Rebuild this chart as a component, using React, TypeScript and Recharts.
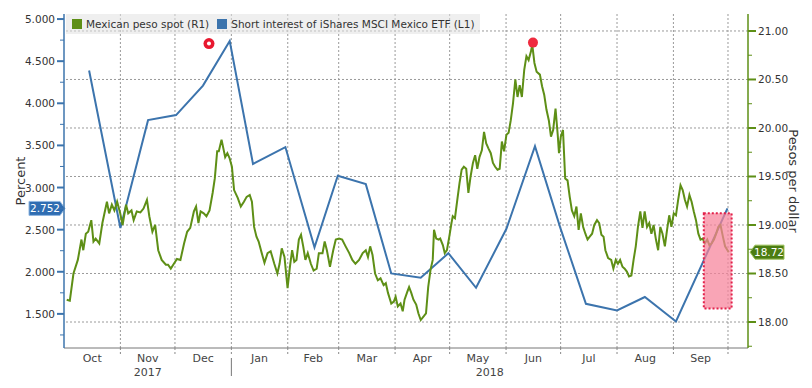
import React from 'react';
import { LineChart, Line, XAxis, YAxis, ReferenceLine, ReferenceArea, ReferenceDot, Legend } from 'recharts';

const GREEN = '#5e8f16';
const BLUE = '#3c74ad';
const FONT = '"DejaVu Sans", Verdana, sans-serif';

// x values are days counted from 1 Oct 2017
const monthStarts = [31, 61, 92, 123, 151, 182, 212, 243, 273, 304, 335, 365];
const monthLabels = ['Oct', 'Nov', 'Dec', 'Jan', 'Feb', 'Mar', 'Apr', 'May', 'Jun', 'Jul', 'Aug', 'Sep'];
const yearLabels = ['2017', '2018'];
const yearBounds = [0, 92, 376];

const leftTicks = [1.25, 1.5, 1.75, 2, 2.25, 2.5, 2.75, 3, 3.25, 3.5, 3.75, 4, 4.25, 4.5, 4.75, 5];
const rightTicks = [17.75, 18, 18.25, 18.5, 18.75, 19, 19.25, 19.5, 19.75, 20, 20.25, 20.5, 20.75, 21];
const rightGrid = [18, 18.5, 19, 19.5, 20, 20.5, 21];

// Mexican peso spot, pesos per dollar (right axis)
const pesoSpot: [number, number][] = [
  [1.5, 18.23], [3.2, 18.22], [5.2, 18.5], [7.6, 18.64], [9.6, 18.85], [10.6, 18.74], [12.0, 18.91], [13.3, 18.93],
  [15.0, 19.05], [16.2, 18.83], [17.4, 18.86], [19.4, 18.81], [21.1, 19.02], [23.6, 19.24], [24.8, 19.12], [26.3, 19.21],
  [27.7, 19.15], [29.2, 19.24], [30.9, 19.12], [32.2, 19.0], [34.1, 19.21], [35.3, 19.12], [37.1, 19.15], [38.3, 19.05],
  [40.0, 19.14], [42.0, 19.13], [43.7, 19.17], [45.6, 19.26], [46.9, 19.09], [48.6, 18.93], [50.1, 19.0], [51.8, 18.74],
  [53.7, 18.64], [56.0, 18.59], [57.2, 18.59], [58.7, 18.55], [60.4, 18.6], [62.1, 18.65], [64.0, 18.64], [66.0, 18.81],
  [67.7, 18.93], [69.4, 18.97], [71.4, 19.14], [72.6, 19.19], [73.9, 19.02], [75.1, 19.14], [76.8, 19.12], [78.3, 19.09],
  [80.0, 19.15], [81.7, 19.33], [82.9, 19.48], [84.2, 19.76], [85.1, 19.76], [86.6, 19.88], [87.6, 19.79], [88.6, 19.7],
  [89.8, 19.74], [91.0, 19.69], [92.3, 19.6], [93.5, 19.36], [95.5, 19.28], [97.2, 19.19], [98.9, 19.24], [100.4, 19.29],
  [102.1, 19.31], [103.3, 19.24], [104.5, 18.98], [105.8, 18.88], [107.0, 18.83], [108.7, 18.71], [110.2, 18.61], [111.9, 18.71],
  [113.6, 18.73], [115.6, 18.6], [117.3, 18.5], [118.5, 18.6], [119.7, 18.76], [121.2, 18.67], [122.9, 18.35], [124.2, 18.57],
  [125.4, 18.74], [126.6, 18.62], [127.8, 18.64], [129.1, 18.85], [130.3, 18.9], [131.5, 18.78], [132.7, 18.64], [134.0, 18.71],
  [135.7, 18.6], [137.2, 18.53], [138.9, 18.55], [140.1, 18.71], [142.1, 18.71], [143.3, 18.83], [144.5, 18.74], [146.2, 18.57],
  [148.0, 18.74], [149.4, 18.85], [151.2, 18.86], [152.9, 18.85], [154.8, 18.78], [156.8, 18.71], [158.5, 18.64], [160.2, 18.6],
  [162.2, 18.64], [164.2, 18.71], [165.9, 18.74], [167.1, 18.67], [168.3, 18.78], [169.6, 18.69], [171.0, 18.5], [172.5, 18.43],
  [174.0, 18.45], [175.7, 18.38], [176.9, 18.4], [178.1, 18.3], [179.9, 18.19], [181.3, 18.21], [182.3, 18.26], [183.5, 18.16],
  [185.0, 18.19], [186.2, 18.11], [187.2, 18.23], [188.7, 18.31], [189.7, 18.36], [190.9, 18.3], [192.1, 18.23], [193.6, 18.18],
  [194.8, 18.09], [196.1, 18.02], [197.8, 18.06], [199.0, 18.09], [200.2, 18.36], [201.5, 18.54], [202.7, 18.64], [203.4, 18.95],
  [204.6, 18.86], [205.9, 18.85], [206.8, 18.86], [208.3, 18.79], [209.3, 18.71], [210.5, 18.74], [211.8, 18.88], [213.0, 19.02],
  [213.7, 19.09], [214.9, 19.07], [216.2, 19.26], [217.4, 19.43], [218.6, 19.57], [219.8, 19.6], [221.1, 19.58], [222.3, 19.33],
  [223.5, 19.5], [224.8, 19.64], [226.0, 19.72], [227.2, 19.58], [228.4, 19.7], [229.7, 19.77], [230.9, 19.96], [232.1, 19.84],
  [233.3, 19.79], [234.6, 19.74], [235.8, 19.64], [237.0, 19.6], [238.3, 19.57], [239.5, 19.58], [240.7, 19.86], [241.9, 19.76],
  [243.2, 19.93], [244.4, 19.95], [245.6, 20.08], [246.8, 20.25], [248.1, 20.5], [249.3, 20.32], [250.5, 20.44], [251.7, 20.32],
  [253.0, 20.6], [254.2, 20.74], [255.4, 20.7], [256.7, 20.79], [257.4, 20.86], [258.6, 20.67], [259.8, 20.58], [261.6, 20.55],
  [262.8, 20.43], [264.0, 20.34], [265.2, 20.19], [266.5, 20.08], [267.7, 19.91], [268.9, 19.98], [270.2, 20.2], [271.4, 19.93],
  [272.1, 19.74], [273.1, 19.91], [274.3, 19.98], [275.5, 19.48], [276.8, 19.46], [278.0, 19.29], [279.2, 19.15], [280.5, 19.09],
  [281.7, 19.19], [282.9, 18.95], [284.1, 19.12], [285.4, 18.98], [286.6, 18.91], [287.8, 18.85], [289.0, 18.88], [290.3, 18.91],
  [291.5, 19.0], [293.0, 19.05], [294.2, 19.02], [295.4, 18.9], [296.6, 18.88], [297.6, 18.74], [299.1, 18.66], [300.8, 18.64],
  [302.0, 18.55], [303.3, 18.64], [304.5, 18.6], [305.7, 18.64], [307.0, 18.57], [308.2, 18.55], [309.4, 18.52], [310.6, 18.47],
  [311.9, 18.48], [313.1, 18.64], [314.3, 18.78], [315.5, 18.98], [316.8, 19.14], [318.0, 18.97], [319.2, 19.14], [320.5, 18.98],
  [321.7, 19.02], [322.9, 18.91], [324.1, 19.0], [325.4, 18.85], [326.6, 18.74], [327.8, 18.98], [329.0, 18.91], [330.3, 18.78],
  [331.5, 18.95], [332.7, 19.1], [333.9, 18.98], [335.2, 19.12], [336.4, 19.1], [337.6, 19.26], [338.9, 19.41], [340.1, 19.36],
  [341.3, 19.26], [342.5, 19.19], [343.8, 19.31], [345.0, 19.24], [346.2, 19.14], [347.4, 19.05], [348.7, 18.91], [349.9, 18.85],
  [351.1, 18.86], [352.3, 18.81], [353.6, 18.85], [354.8, 18.79], [356.0, 18.81], [357.3, 18.85], [358.5, 18.91], [359.7, 18.98],
  [360.9, 19.0], [362.2, 18.88], [363.4, 18.78], [365.4, 18.72],
];

// short interest of iShares MSCI Mexico ETF, percent (left axis)
const shortInterest: [number, number][] = [
  [13.8, 4.39], [31.0, 2.52], [46.2, 3.8], [61.6, 3.86], [76.4, 4.21], [91.1, 4.74], [103.9, 3.28], [121.7, 3.48],
  [137.7, 2.29], [150.5, 3.14], [165.9, 3.04], [179.9, 1.98], [196.1, 1.93], [211.3, 2.22], [226.5, 1.81], [243.2, 2.51],
  [258.9, 3.49], [272.7, 2.53], [286.9, 1.62], [304.0, 1.54], [319.3, 1.7], [336.4, 1.41], [364.7, 2.752],
];

const lastShort = 2.752;
const lastPeso = 18.72;
const peakMarks: [number, number][] = [[79.7, 20.87], [257.8, 20.88]];
const highlight = { x1: 351.7, x2: 367, y1: 18.14, y2: 19.12 };

const pesoData = pesoSpot.map(([d, v]) => ({ d, v }));
const shortData = shortInterest.map(([d, v]) => ({ d, v }));

const bounds = [0, ...monthStarts];
const monthMids = monthLabels.map((_, i) => (bounds[i] + bounds[i + 1]) / 2);
const yearMids = yearLabels.map((_, i) => (yearBounds[i] + yearBounds[i + 1]) / 2);
const xTicks = Array.from(new Set([...monthStarts, ...monthMids, ...yearMids])).sort((a, b) => a - b);

const XTick = (props: any) => {
  const { x, y, payload } = props;
  const v = payload.value;
  const mi = monthMids.indexOf(v);
  const yi = yearMids.indexOf(v);
  return (
    <g>
      {monthStarts.includes(v) && (
        <line x1={x} x2={x} y1={y} y2={y + 7} stroke="#888" strokeDasharray="2 2" />
      )}
      {v === yearBounds[1] && <line x1={x} x2={x} y1={y + 10} y2={y + 28} stroke="#777" />}
      {mi >= 0 && (
        <text x={x} y={y + 14} textAnchor="middle" fontSize={11} fill="#444" fontFamily={FONT}>
          {monthLabels[mi]}
        </text>
      )}
      {yi >= 0 && (
        <text x={x} y={y + 28} textAnchor="middle" fontSize={11} fill="#444" fontFamily={FONT}>
          {yearLabels[yi]}
        </text>
      )}
    </g>
  );
};

const LeftTick = (props: any) => {
  const { x, y, payload } = props;
  const major = Math.abs(payload.value * 2 - Math.round(payload.value * 2)) < 1e-6;
  return (
    <g>
      <line x1={x - (major ? 7 : 4)} x2={x} y1={y} y2={y} stroke={BLUE} strokeWidth={major ? 2 : 1} />
      {major && (
        <text x={x - 9} y={y + 4} textAnchor="end" fontSize={10.5} fill="#333" fontFamily={FONT}>
          {payload.value.toFixed(3)}
        </text>
      )}
    </g>
  );
};

const RightTick = (props: any) => {
  const { x, y, payload } = props;
  const major = Math.abs(payload.value * 2 - Math.round(payload.value * 2)) < 1e-6;
  return (
    <g>
      <line x1={x} x2={x + (major ? 8 : 4)} y1={y} y2={y} stroke={GREEN} strokeWidth={major ? 2 : 1} />
      {major && (
        <text x={x + 10} y={y + 4} textAnchor="start" fontSize={10.5} fill="#333" fontFamily={FONT}>
          {payload.value.toFixed(2)}
        </text>
      )}
    </g>
  );
};

const LeftBadge = (props: any) => {
  const { x, y } = props.viewBox;
  const d = `M${x - 35},${y - 7} H${x - 4} L${x + 1},${y} L${x - 4},${y + 7} H${x - 35} Z`;
  return (
    <g>
      <path d={d} fill="#2f6db2" stroke="#8fb6e0" strokeWidth={1} />
      <text x={x - 19} y={y + 4} textAnchor="middle" fontSize={10.5} fill="#fff" fontFamily={FONT}>
        {lastShort.toFixed(3)}
      </text>
    </g>
  );
};

const RightBadge = (props: any) => {
  const { x, y, width } = props.viewBox;
  const r = x + width;
  const d = `M${r + 2},${y} L${r + 7},${y - 7} H${r + 36} V${y + 7} H${r + 7} Z`;
  return (
    <g>
      <path d={d} fill="#4b7d12" stroke="#9cc25a" strokeWidth={1} />
      <text x={r + 21} y={y + 4} textAnchor="middle" fontSize={10.5} fill="#fff" fontFamily={FONT}>
        {lastPeso.toFixed(2)}
      </text>
    </g>
  );
};

const RingDot = (props: any) => (
  <g>
    <circle cx={props.cx} cy={props.cy} r={5.5} fill="#e8182f" />
    <circle cx={props.cx} cy={props.cy} r={2} fill="#fff" />
  </g>
);

const LegendBox = () => (
  <div
    style={{
      display: 'flex',
      alignItems: 'center',
      height: 20,
      padding: '0 6px',
      background: 'rgba(225,225,225,0.55)',
      fontSize: 10.5,
      color: '#333',
      fontFamily: FONT,
      whiteSpace: 'nowrap',
    }}
  >
    <span style={{ width: 10, height: 10, background: GREEN, marginRight: 4 }} />
    <span style={{ marginRight: 8 }}>Mexican peso spot (R1)</span>
    <span style={{ width: 10, height: 10, background: BLUE, marginRight: 4 }} />
    <span>Short interest of iShares MSCI Mexico ETF (L1)</span>
  </div>
);

export default function App() {
  return (
    <div style={{ position: 'absolute', left: 0, top: 0, background: '#fff' }}>
      <LineChart width={812} height={388} margin={{ top: 14, right: 0, bottom: 0, left: 0 }} style={{ fontFamily: FONT }}>
        <XAxis
          dataKey="d"
          type="number"
          domain={[0, 376]}
          ticks={xTicks}
          interval={0}
          tick={<XTick />}
          tickLine={false}
          tickSize={0}
          tickMargin={0}
          height={40}
          axisLine={{ stroke: '#777' }}
        />
        <YAxis
          yAxisId="left"
          orientation="left"
          type="number"
          domain={[1.095, 5.06]}
          ticks={leftTicks}
          interval={0}
          tick={<LeftTick />}
          tickLine={false}
          tickSize={0}
          tickMargin={0}
          width={64}
          axisLine={{ stroke: BLUE, strokeWidth: 1.5 }}
          label={{ value: 'Percent', angle: -90, position: 'center', dx: -12, fontSize: 13, fill: '#333' }}
        />
        <YAxis
          yAxisId="right"
          orientation="right"
          type="number"
          domain={[17.732, 21.175]}
          ticks={rightTicks}
          interval={0}
          tick={<RightTick />}
          tickLine={false}
          tickSize={0}
          tickMargin={0}
          width={64}
          axisLine={{ stroke: GREEN, strokeWidth: 1.5 }}
          label={{ value: 'Pesos per dollar', angle: 90, position: 'center', dx: 14, fontSize: 13, fill: '#333' }}
        />
        <Legend
          content={<LegendBox />}
          layout="horizontal"
          verticalAlign="middle"
          align="center"
          wrapperStyle={{ left: 66, top: 14, width: 'auto', height: 20 }}
        />
        {rightGrid.map((v) => (
          <ReferenceLine key={`h${v}`} y={v} yAxisId="right" stroke="#9a9a9a" strokeDasharray="2 2" />
        ))}
        {monthStarts.map((s) => (
          <ReferenceLine key={`v${s}`} x={s} yAxisId="left" stroke="#9a9a9a" strokeDasharray="2 2" />
        ))}
        <Line
          data={shortData}
          yAxisId="left"
          dataKey="v"
          type="linear"
          stroke={BLUE}
          strokeWidth={2}
          dot={false}
          isAnimationActive={false}
        />
        <Line
          data={pesoData}
          yAxisId="right"
          dataKey="v"
          type="linear"
          stroke={GREEN}
          strokeWidth={2}
          dot={false}
          isAnimationActive={false}
        />
        <ReferenceArea
          yAxisId="right"
          x1={highlight.x1}
          x2={highlight.x2}
          y1={highlight.y1}
          y2={highlight.y2}
          fill="#f7829a"
          fillOpacity={0.72}
          stroke="#e3204a"
          strokeDasharray="2 2"
          strokeWidth={2}
          zIndex={650}
        />
        <ReferenceDot yAxisId="right" x={peakMarks[0][0]} y={peakMarks[0][1]} shape={<RingDot />} />
        <ReferenceDot yAxisId="right" x={peakMarks[1][0]} y={peakMarks[1][1]} r={5} fill="#ef2b3f" stroke="none" />
        <ReferenceLine y={lastShort} yAxisId="left" stroke="none" label={<LeftBadge />} />
        <ReferenceLine y={lastPeso} yAxisId="right" stroke="none" label={<RightBadge />} />
      </LineChart>
    </div>
  );
}
